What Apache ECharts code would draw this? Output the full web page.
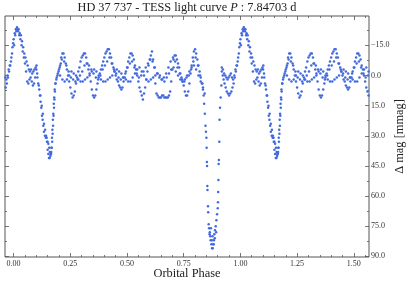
<!DOCTYPE html>
<html><head><meta charset="utf-8">
<script src="https://cdn.jsdelivr.net/npm/echarts@6/dist/echarts.min.js"></script>
<style>html,body{margin:0;padding:0;background:#fff}#c{width:411px;height:285px}</style>
</head><body><div id="c"></div>
<script>
// Tick values
const xTicks = [0, 0.25, 0.5, 0.75, 1.0, 1.25, 1.5];
const yTicks = [-15, 0, 15, 30, 45, 60, 75, 90];
const yMinorTicks = [-22.5, -7.5, 7.5, 22.5, 37.5, 52.5, 67.5, 82.5];

// Phase-folded light curve readings [phase, delta mag (mmag)], phase in [0,1)
const strandA = [
[0.000,-18],[0.005,-21],[0.010,-23],[0.015,-24],[0.020,-22],[0.025,-20],[0.030,-18],[0.035,-15],[0.040,-12],[0.045,-9],
[0.050,-6],[0.055,-2],[0.060,3],[0.065,4],[0.070,2],[0.075,1],[0.080,3],[0.085,5],[0.090,4],[0.095,1],[0.100,-3],[0.104,-1],
[0.1085,4],[0.113,7],[0.116,10],[0.119,13],[0.122,16],[0.125,20],[0.128,22],[0.131,25],[0.134,28],[0.138,30],[0.142,31],
[0.146,31],[0.150,33],[0.153,34],[0.157,36],[0.160,38],[0.163,39],[0.166,38],[0.168,36],[0.170,33],[0.172,29],[0.174,25],
[0.176,20],[0.178,16],[0.180,12],[0.182,8],[0.185,4],[0.190,1],[0.195,-1],[0.200,-3],[0.205,-5],[0.210,-9],[0.215,-11],[0.220,-11],
[0.225,-9],[0.230,-6],[0.235,-3],[0.240,0],[0.245,3],[0.250,6],[0.255,9],[0.260,11],[0.265,10],[0.270,8],[0.275,4],[0.280,1],
[0.285,-2],[0.290,-4],[0.295,-7],[0.300,-9],[0.305,-10],[0.310,-11],[0.315,-11],[0.320,-9],[0.325,-6],[0.330,-3],[0.335,0],
[0.340,3],[0.345,7],[0.350,10],[0.355,11],[0.360,10],[0.365,7],[0.370,4],[0.375,1],[0.380,-1],[0.385,-3],[0.390,-5],[0.395,-7],
[0.400,-9],[0.405,-11],[0.410,-12],[0.415,-13],[0.420,-13],[0.425,-11],[0.430,-9],[0.435,-6],[0.440,-4],[0.445,-2],[0.450,0],
[0.455,2],[0.460,3],[0.465,5],[0.470,6],[0.475,7],[0.480,6],[0.485,3],[0.490,1],[0.495,-2],[0.500,-4],[0.505,-7],[0.510,-9],
[0.515,-11],[0.520,-11],[0.525,-10],[0.530,-8],[0.535,-5],[0.540,-3],[0.545,0],[0.550,3],[0.555,6],[0.560,8],[0.565,10],[0.570,12],
[0.575,9],[0.580,6],[0.585,2],[0.590,-2],[0.595,-5],[0.600,-8],[0.605,-10],[0.610,-12],[0.615,-8],[0.620,-4],[0.625,4],[0.630,9],
[0.635,10],[0.640,11],[0.645,11],[0.650,11],[0.655,10],[0.660,10],[0.665,11],[0.670,11],[0.675,11],[0.680,11],[0.685,10],[0.690,8],
[0.695,3],[0.700,-3],[0.705,-8],[0.710,-10],[0.715,-10],[0.720,-8],[0.725,-6],[0.730,-4],[0.735,-1],[0.740,1],[0.745,3],[0.750,5],
[0.755,8],[0.760,10],[0.765,10],[0.770,8],[0.775,4],[0.780,-1],[0.785,-5],[0.790,-9],[0.795,-12],[0.800,-13],[0.805,-11],[0.810,-8],
[0.815,-5],[0.820,-2],[0.825,1],[0.830,4],[0.835,7],
[0.918,-2],[0.922,0],[0.926,2],[0.930,4],[0.935,6],[0.940,8],[0.945,9],[0.950,10],[0.955,9],[0.960,8],[0.965,6],[0.970,4],
[0.975,1],[0.980,-2],[0.985,-5],[0.990,-9],[0.995,-14]
];
const strandB = [
[0.002,-15],[0.007,-20],[0.012,-22],[0.017,-23],[0.022,-23],[0.027,-21],[0.032,-20],[0.037,-17],[0.042,-14],[0.047,-11],
[0.052,-9],[0.057,-7],[0.062,-5],[0.067,-3],[0.072,-2],[0.077,-3],[0.082,-1],[0.087,-2],[0.092,-3],[0.097,-4],[0.101,-5],[0.105,1],
[0.111,5],[0.118,10],[0.124,15],[0.129,19],[0.134,24],[0.139,27],[0.143,30],[0.147,33],[0.150,37],[0.153,39],[0.156,41],[0.159,41],
[0.162,40],[0.165,39],[0.167,36],[0.169,31],[0.171,27],[0.173,22],[0.175,19],[0.177,14],[0.179,11],[0.181,7],[0.184,4],[0.188,2],
[0.193,0],[0.198,-2],[0.203,-4],[0.208,-6],
[0.2125,-8],[0.2225,-7],[0.2325,-5],[0.2425,-2],[0.2525,1],[0.2625,2],[0.2725,3],[0.2825,2],[0.2925,0],[0.3025,-2],[0.3125,-5],
[0.3225,-6],[0.3325,-5],[0.3425,-3],[0.3525,-1],[0.3625,1],[0.3725,2],[0.3825,0],[0.3925,-3],[0.4025,-5],[0.4125,-7],[0.4225,-9],
[0.4325,-6],[0.4425,-3],[0.4525,-1],[0.4625,1],[0.4725,2],[0.4825,1],[0.4925,-1],[0.5025,-4],[0.5125,-6],[0.5225,-7],[0.5325,-4],
[0.5425,-1],[0.5525,1],[0.5625,0],[0.5725,-2],[0.5825,-4],[0.5925,-6],[0.6025,-8],[0.6125,-7],[0.6225,-4],[0.6325,-1],[0.6425,1],
[0.6525,2],[0.6625,1],[0.6725,-1],[0.6825,-4],[0.6925,-7],[0.7025,-9],[0.7125,-7],[0.7225,-4],[0.7325,-1],[0.7425,2],[0.7525,3],
[0.7625,1],[0.7725,0],[0.7825,-3],[0.7925,-7],[0.8025,-9],[0.8125,-5],[0.8225,0],[0.8325,4],[0.8425,9],
[0.918,-4],[0.923,-3],[0.928,-1],[0.933,0],[0.938,1],[0.943,2],[0.948,1],[0.953,0],[0.958,-1],[0.963,1],[0.968,2],[0.973,0],
[0.978,-3],[0.983,-5],[0.988,-7],[0.993,-11],[0.998,-16]
];
const strandC = [
[0.205,0],[0.215,2],[0.225,3],[0.235,2],[0.245,0],[0.255,-2],[0.265,-1],[0.275,0],[0.285,2],[0.295,3],[0.305,3],[0.315,2],
[0.325,1],[0.335,-1],[0.345,-2],[0.355,-3],[0.365,-2],[0.375,0],[0.385,2],[0.395,3],[0.405,3],[0.415,2],[0.425,1],[0.435,0],
[0.445,-2],[0.455,-3],[0.465,-2],[0.475,-1],[0.485,1],[0.495,2],[0.505,3],[0.515,3],[0.525,1],[0.535,-1],[0.545,-3],[0.555,-4],
[0.565,-2],[0.575,0],[0.585,2],[0.595,3],[0.605,2],[0.615,1],[0.625,0],[0.635,-1],[0.645,0],[0.655,2],[0.665,3],[0.675,1],
[0.685,-1],[0.695,-3],[0.705,-4],[0.715,-2],[0.725,0],[0.735,2],[0.745,3],[0.755,2],[0.765,0],[0.775,-2],[0.785,-4],[0.795,-5],
[0.805,-3],[0.815,0],[0.825,3],[0.835,6]
];
const eclipse = [
[0.838,10],[0.840,14],[0.843,19],[0.846,25],[0.848,28],[0.850,31],[0.851,36],[0.852,43],[0.853,45],[0.854,55],[0.855,57],
[0.857,65],[0.858,68],[0.860,74],[0.862,76],[0.865,78],[0.867,80],[0.869,82],[0.872,84],[0.875,86],[0.878,86],[0.880,84],
[0.883,82],[0.885,79],[0.888,77],[0.891,75],[0.894,72],[0.897,69],[0.900,66],[0.901,63],[0.902,58],[0.903,52],[0.904,44],
[0.905,42],[0.907,33],[0.908,22],[0.910,16],[0.913,11],[0.916,5],
[0.864,79],[0.870,76],[0.874,82],[0.877,80],[0.882,84],[0.887,81],[0.893,78]
];

const xMin = -0.038, xMax = 1.567, yMin = -29.6, yMax = 90.3;
const xMinorTicks = [];
for (let v = 0.05; v < xMax; v += 0.05) { const r = Math.round(v * 100) / 100; if (Math.round(r * 100) % 25 !== 0) xMinorTicks.push(r); }

const pts = [];
[strandA, strandB, strandC, eclipse].forEach(s => s.forEach(([p, m]) => {
  [p - 1, p, p + 1].forEach(q => { if (q >= xMin && q <= xMax) pts.push([q, m]); });
}));

const AX = '#555', TX = '#333';
const serif = 'Liberation Serif';
const tick = (len, vals) => ({ show: true, inside: true, length: len, customValues: vals, lineStyle: { color: AX, width: 0.8 } });
const xAx = (extra) => Object.assign({
  type: 'value', min: xMin, max: xMax, splitLine: { show: false },
  axisLine: { show: false, onZero: false }, axisLabel: { show: false }, axisTick: { show: false }
}, extra);
const yAx = (extra) => Object.assign({
  type: 'value', inverse: true, min: yMin, max: yMax, splitLine: { show: false },
  axisLine: { show: false, onZero: false }, axisLabel: { show: false }, axisTick: { show: false }
}, extra);
const fmtY = v => (v < 0 ? '\u2212' : '') + Math.abs(v).toFixed(1);

const chart = echarts.init(document.getElementById('c'), null, { renderer: 'canvas' });
chart.setOption({
  animation: false,
  backgroundColor: '#fff',
  grid: { left: 5, right: 42, top: 16, bottom: 28, show: true, borderColor: AX, borderWidth: 1,
          containLabel: false, outerBoundsMode: 'none' },
  xAxis: [
    xAx({ position: 'bottom', axisTick: tick(4, xTicks),
      axisLabel: { show: true, customValues: xTicks, formatter: v => v.toFixed(2), fontSize: 8, fontFamily: serif, color: TX, margin: 3 },
      name: 'Orbital Phase', nameLocation: 'middle', nameGap: 11, nameMoveOverlap: false,
      nameTextStyle: { fontSize: 12.4, fontFamily: serif, color: '#222', verticalAlign: 'top' } }),
    xAx({ position: 'bottom', axisTick: tick(2, xMinorTicks) }),
    xAx({ position: 'top', axisTick: tick(4, xTicks) }),
    xAx({ position: 'top', axisTick: tick(2, xMinorTicks) })
  ],
  yAxis: [
    yAx({ position: 'right', axisTick: tick(4, yTicks),
      axisLabel: { show: true, customValues: yTicks, formatter: fmtY, fontSize: 8, fontFamily: serif, color: TX, margin: 2 },
      name: 'Δ mag [mmag]', nameLocation: 'middle', nameGap: 25, nameRotate: 90, nameMoveOverlap: false,
      nameTextStyle: { fontSize: 12.4, fontFamily: serif, color: '#222' } }),
    yAx({ position: 'right', axisTick: tick(2, yMinorTicks) }),
    yAx({ position: 'left', axisTick: tick(4, yTicks) }),
    yAx({ position: 'left', axisTick: tick(2, yMinorTicks) })
  ],
  graphic: [{
    type: 'text', x: 187, y: 8,
    style: {
      text: '{a|HD 37 737 - TESS light curve }{b|P}{a| : 7.84703 d}',
      align: 'center', verticalAlign: 'middle',
      rich: {
        a: { fontSize: 12.3, fontFamily: serif, fill: '#222' },
        b: { fontSize: 12.3, fontFamily: serif, fontStyle: 'italic', fill: '#222' }
      }
    }
  }],
  series: [{
    type: 'scatter', xAxisIndex: 0, yAxisIndex: 0, data: pts,
    symbolSize: 2.5, itemStyle: { color: '#4169E1', opacity: 1 }, silent: true
  }]
});
</script>
</body></html>
